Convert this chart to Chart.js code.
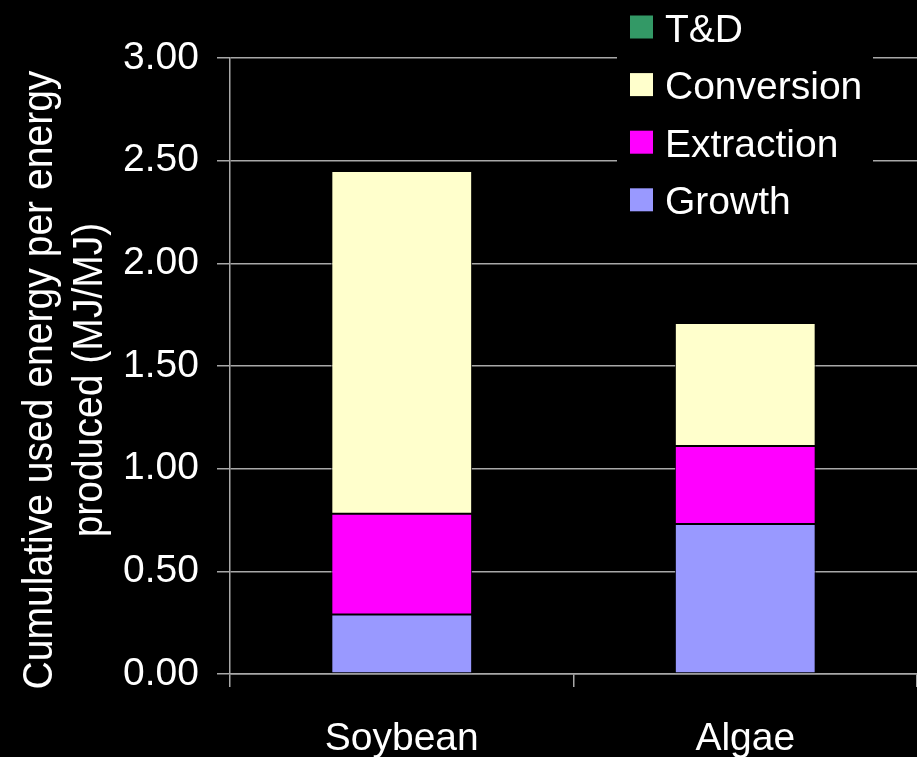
<!DOCTYPE html>
<html>
<head>
<meta charset="utf-8">
<title>Cumulative used energy per energy produced</title>
<script src="https://cdn.jsdelivr.net/npm/chart.js@4"></script>
<style>
  html, body { margin: 0; padding: 0; background: #000; }
  #wrap { width: 917px; height: 757px; }
  canvas { display: block; }
</style>
</head>
<body>
<div id="wrap"><canvas id="chart" width="917" height="757"></canvas></div>
<script>
// Feedstocks on the x axis
const categories = ['Soybean', 'Algae'];

// Energy used per energy produced (MJ/MJ), by stage, stacked bottom to top
const growth     = [0.29, 0.73];
const extraction = [0.49, 0.38];
const conversion = [1.67, 0.60];
const tAndD      = [0.00, 0.00];

// Value axis tick labels and title lines
const yTickLabels = ['0.00', '0.50', '1.00', '1.50', '2.00', '2.50', '3.00'];
const yTitleLines = ['Cumulative used energy per energy', 'produced (MJ/MJ)'];

const FONT = '"Liberation Sans", Arial, Helvetica, sans-serif';
const GRID = '#a8a8a8';

Chart.defaults.font.family = FONT;
Chart.defaults.color = '#ffffff';

// Black page behind the canvas drawing
const blackBackground = {
  id: 'blackBackground',
  beforeDraw(chart) {
    const ctx = chart.ctx;
    ctx.save();
    ctx.fillStyle = '#000';
    ctx.fillRect(0, 0, chart.width, chart.height);
    ctx.restore();
  }
};

// Rotated two-line value axis title, set in a slightly narrow face
const axisTitle = {
  id: 'axisTitle',
  afterDraw(chart) {
    const ctx = chart.ctx;
    ctx.save();
    ctx.fillStyle = '#ffffff';
    ctx.font = '42px ' + FONT;
    ctx.textAlign = 'center';
    ctx.textBaseline = 'alphabetic';
    const baselines = [52, 102];
    yTitleLines.forEach((line, i) => {
      ctx.save();
      ctx.translate(baselines[i], 380);
      ctx.rotate(-Math.PI / 2);
      ctx.scale(0.93, 1);
      ctx.fillText(line, 0, 0);
      ctx.restore();
    });
    ctx.restore();
  }
};

// Legend sitting in the upper right corner, over the grid, top series first
const cornerLegend = {
  id: 'cornerLegend',
  afterDatasetsDraw(chart) {
    const ctx = chart.ctx;
    ctx.save();
    ctx.fillStyle = '#000';
    ctx.fillRect(617, 0, 256, 228);
    ctx.font = '39px ' + FONT;
    ctx.textBaseline = 'alphabetic';
    ctx.textAlign = 'left';
    const items = chart.data.datasets.slice().reverse();
    items.forEach((ds, i) => {
      const cy = 27 + i * 57.6;
      ctx.fillStyle = ds.backgroundColor;
      ctx.fillRect(630, cy - 11.5, 23, 23);
      ctx.fillStyle = '#ffffff';
      ctx.fillText(ds.label, 665, cy + 14.5);
    });
    ctx.restore();
  }
};

const barStyle = {
  borderColor: '#000000',
  borderWidth: 1,
  borderSkipped: false,
  barPercentage: 0.41,
  categoryPercentage: 1.0
};

new Chart(document.getElementById('chart'), {
  type: 'bar',
  data: {
    labels: categories,
    datasets: [
      Object.assign({ label: 'Growth',     data: growth,     backgroundColor: '#9999FF' }, barStyle),
      Object.assign({ label: 'Extraction', data: extraction, backgroundColor: '#FF00FF' }, barStyle),
      Object.assign({ label: 'Conversion', data: conversion, backgroundColor: '#FFFFCC' }, barStyle),
      Object.assign({ label: 'T&D',        data: tAndD,      backgroundColor: '#339966' }, barStyle)
    ]
  },
  options: {
    responsive: false,
    animation: false,
    devicePixelRatio: 1,
    layout: { padding: { top: 58, right: 0, bottom: 0, left: 0 } },
    plugins: {
      legend: { display: false },
      tooltip: { enabled: false }
    },
    scales: {
      x: {
        stacked: true,
        offset: true,
        grid: {
          display: true,
          offset: true,
          drawOnChartArea: false,
          drawTicks: true,
          tickLength: 13,
          color: GRID,
          lineWidth: 1.5
        },
        border: { display: true, color: GRID, width: 1.5 },
        ticks: {
          color: '#ffffff',
          font: { size: 39, family: FONT },
          padding: 29,
          maxRotation: 0,
          autoSkip: false
        },
        afterFit(scale) { scale.height = 83; }
      },
      y: {
        stacked: true,
        min: 0,
        max: 3,
        ticks: {
          stepSize: 0.5,
          color: '#ffffff',
          font: { size: 39, family: FONT },
          padding: 18,
          callback: (value, index) => yTickLabels[index]
        },
        grid: {
          color: GRID,
          lineWidth: 1.5,
          tickLength: 13
        },
        border: { display: true, color: GRID, width: 1.5 },
        title: { display: false },
        afterFit(scale) { scale.width = 230; }
      }
    }
  },
  plugins: [blackBackground, axisTitle, cornerLegend]
});
</script>
</body>
</html>
